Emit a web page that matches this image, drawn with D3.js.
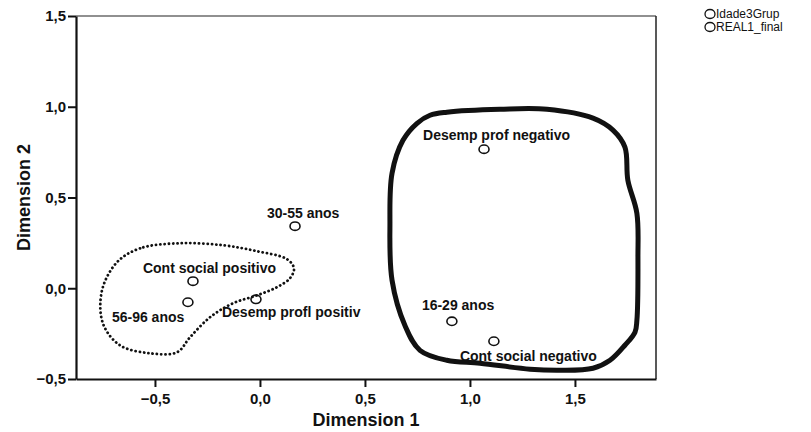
<!DOCTYPE html>
<html>
<head>
<meta charset="utf-8">
<script src="https://cdn.jsdelivr.net/npm/d3@7"></script>
<style>
  body { margin: 0; background: #fff; }
  text { font-family: Arial, "Liberation Sans", sans-serif; fill: #111; }
</style>
</head>
<body>
<div class="D3"></div>
<script>
//category points for Idade3Grup
var ageLabels = ["16-29 anos", "30-55 anos", "56-96 anos"];
var ageDim1 = [0.914, 0.167, -0.343];
var ageDim2 = [-0.182, 0.342, -0.077];

//category points for REAL1_final
var realLabels = ["Cont social positivo", "Desemp profl positiv", "Desemp prof negativo", "Cont social negativo"];
var realDim1 = [-0.319, -0.019, 1.067, 1.114];
var realDim2 = [0.039, -0.061, 0.766, -0.292];

//axis ticks
var xTicks = [-0.5, 0.0, 0.5, 1.0, 1.5];
var yTicks = [-0.5, 0.0, 0.5, 1.0, 1.5];
var legendNames = ["Idade3Grup", "REAL1_final"];

//hand drawn outlines, in dimension units
var dottedHull = [[-0.381, 0.248], [-0.571, 0.220], [-0.681, 0.143], [-0.752, -0.011], [-0.748, -0.193],
  [-0.667, -0.314], [-0.524, -0.358], [-0.395, -0.353], [-0.333, -0.270], [-0.238, -0.160],
  [-0.129, -0.083], [-0.014, -0.039], [0.081, 0.006], [0.143, 0.055], [0.162, 0.110],
  [0.129, 0.160], [-0.014, 0.204], [-0.176, 0.237]];
var solidHull = [[0.681, 0.815], [0.748, 0.909], [0.810, 0.953], [0.890, 0.970], [1.143, 0.986],
  [1.367, 0.986], [1.586, 0.937], [1.681, 0.871], [1.738, 0.777], [1.752, 0.595],
  [1.795, 0.413], [1.800, 0.171], [1.795, -0.176], [1.786, -0.242], [1.738, -0.314],
  [1.667, -0.397], [1.586, -0.441], [1.429, -0.452], [1.286, -0.446], [1.048, -0.413],
  [0.890, -0.397], [0.762, -0.342], [0.690, -0.204], [0.629, 0.044], [0.619, 0.358], [0.629, 0.634]];

//label placement around each point (text start offset, baseline offset)
var ageLabelOffset = [[-30, -11], [-28, -8], [-76, 20]];
var realLabelOffset = [[-50, -8], [-34, 18], [-61, -9], [-34, 20]];

//set svg and chart dimensions and margins
var svgWidth = 811;
var svgHeight = 432;

var margin = {
  top: 16,
  right: 155,
  bottom: 53,
  left: 76
};

var chartWidth = svgWidth - margin.left - margin.right;
var chartHeight = svgHeight - margin.top - margin.bottom;

var svg = d3
  .select(".D3")
  .append("svg")
  .attr("width", svgWidth)
  .attr("height", svgHeight);

var chartGroup = svg.append("g")
  .attr("transform", `translate(${margin.left}, ${margin.top})`);

//linear scales
var xLinearScale = d3.scaleLinear()
  .domain([-0.876, 1.886])
  .range([0, chartWidth]);

var yLinearScale = d3.scaleLinear()
  .domain([-0.5, 1.5])
  .range([chartHeight, 0]);

var commaFormat = d => d3.format(".1f")(d).replace(".", ",");

//frame top and right
chartGroup.append("line")
  .attr("x1", 0).attr("x2", chartWidth)
  .attr("y1", 0).attr("y2", 0)
  .attr("stroke", "#222").attr("stroke-width", 1.2);
chartGroup.append("line")
  .attr("x1", chartWidth).attr("x2", chartWidth)
  .attr("y1", 0).attr("y2", chartHeight)
  .attr("stroke", "#222").attr("stroke-width", 1.5);

//axes
var bottomAxis = d3.axisBottom(xLinearScale)
  .tickValues(xTicks)
  .tickFormat(commaFormat)
  .tickSize(8)
  .tickSizeOuter(0);

var leftAxis = d3.axisLeft(yLinearScale)
  .tickValues(yTicks)
  .tickFormat(commaFormat)
  .tickSize(8)
  .tickSizeOuter(0);

var xAxis = chartGroup.append("g")
  .classed("x-axis", true)
  .attr("transform", `translate(0, ${chartHeight})`)
  .call(bottomAxis);

var yAxis = chartGroup.append("g")
  .classed("y-axis", true)
  .call(leftAxis);

[xAxis, yAxis].forEach(function(axis) {
  axis.select(".domain").attr("stroke", "#111").attr("stroke-width", 2.2);
  axis.selectAll(".tick line").attr("stroke", "#111").attr("stroke-width", 2);
  axis.selectAll(".tick text")
    .attr("font-size", 15)
    .attr("font-weight", "bold")
    .attr("font-family", "Arial, 'Liberation Sans', sans-serif")
    .attr("fill", "#111");
});
xAxis.selectAll(".tick text").attr("dy", "0.95em");
yAxis.selectAll(".tick text").attr("x", -10);

//outline paths
var hullLine = d3.line()
  .x(d => xLinearScale(d[0]))
  .y(d => yLinearScale(d[1]))
  .curve(d3.curveCatmullRomClosed);

chartGroup.append("path")
  .attr("d", hullLine(solidHull))
  .attr("fill", "none")
  .attr("stroke", "#111")
  .attr("stroke-width", 5)
  .attr("stroke-linejoin", "round");

chartGroup.append("path")
  .attr("d", hullLine(dottedHull))
  .attr("fill", "none")
  .attr("stroke", "#111")
  .attr("stroke-width", 2.8)
  .attr("stroke-linecap", "round")
  .attr("stroke-dasharray", "0.1,4.2");

//points and labels
function drawSeries(labels, dim1, dim2, offsets) {
  var rows = labels.map((name, i) => ({name: name, x: dim1[i], y: dim2[i], off: offsets[i]}));

  chartGroup.selectAll(null)
    .data(rows)
    .enter()
    .append("ellipse")
    .attr("cx", d => xLinearScale(d.x))
    .attr("cy", d => yLinearScale(d.y))
    .attr("rx", 5)
    .attr("ry", 4.2)
    .attr("fill", "none")
    .attr("stroke", "#111")
    .attr("stroke-width", 1.6);

  chartGroup.selectAll(null)
    .data(rows)
    .enter()
    .append("text")
    .attr("x", d => xLinearScale(d.x) + d.off[0])
    .attr("y", d => yLinearScale(d.y) + d.off[1])
    .attr("font-size", 14)
    .attr("font-weight", "bold")
    .text(d => d.name);
}

drawSeries(ageLabels, ageDim1, ageDim2, ageLabelOffset);
drawSeries(realLabels, realDim1, realDim2, realLabelOffset);

//axis titles
svg.append("text")
  .attr("x", margin.left + chartWidth / 2)
  .attr("y", 426)
  .attr("text-anchor", "middle")
  .attr("font-size", 18)
  .attr("font-weight", "bold")
  .text("Dimension 1");

svg.append("text")
  .attr("transform", `translate(30, ${margin.top + chartHeight / 2}) rotate(-90)`)
  .attr("text-anchor", "middle")
  .attr("font-size", 18)
  .attr("font-weight", "bold")
  .text("Dimension 2");

//legend
var legend = svg.append("g")
  .attr("transform", "translate(710, 14)");

legend.selectAll("ellipse")
  .data(legendNames)
  .enter()
  .append("ellipse")
  .attr("cx", 0)
  .attr("cy", (d, i) => i * 13)
  .attr("rx", 5)
  .attr("ry", 4.5)
  .attr("fill", "none")
  .attr("stroke", "#111")
  .attr("stroke-width", 1.3);

legend.selectAll("text")
  .data(legendNames)
  .enter()
  .append("text")
  .attr("x", 6)
  .attr("y", (d, i) => i * 13 + 4.2)
  .attr("font-size", 12)
  .text(d => d);
</script>
</body>
</html>
